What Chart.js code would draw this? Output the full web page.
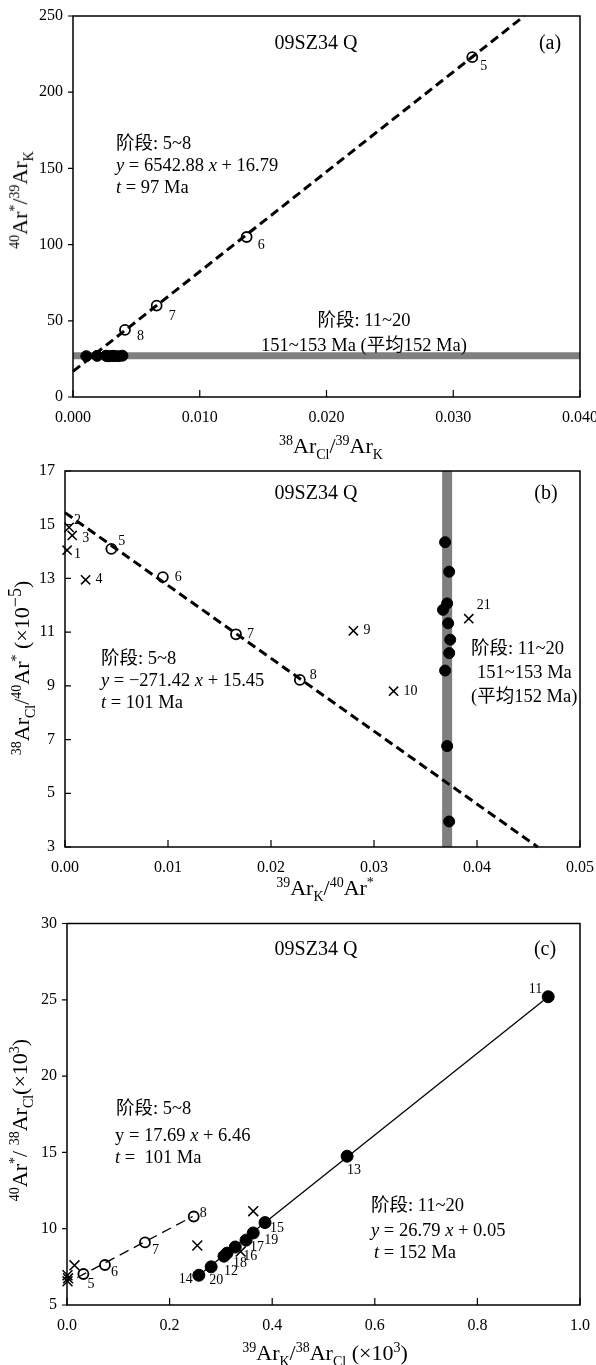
<!DOCTYPE html>
<html>
<head>
<meta charset="utf-8">
<title>09SZ34 Q</title>
<script src="https://cdn.jsdelivr.net/npm/chart.js@4.4.1/dist/chart.umd.min.js"></script>
<style>
body{margin:0;background:#fff;}
#page{position:relative;width:596px;height:1365px;overflow:hidden;background:#fff;font-family:'Liberation Serif','Noto Sans CJK SC',serif;color:#000;}
canvas{position:absolute;left:0;}
.t{position:absolute;white-space:nowrap;line-height:1;transform:translateY(-50%);}
.c{transform:translate(-50%,-50%);}
.ttl{font-size:20px;}
.ann{font-size:18.5px;}
.ax{position:absolute;white-space:nowrap;font-size:22px;line-height:1;transform:translate(-50%,-50%);}
.ax.rot{transform:translate(-50%,-50%) rotate(-90deg);}
.ax sup,.ax sub{font-size:14px;}
.ax sup.big{font-size:18px;}
</style>
</head>
<body>
<div id="page">
<canvas id="chA" width="596" height="462" style="top:0"></canvas>
<canvas id="chB" width="596" height="453" style="top:462px"></canvas>
<canvas id="chC" width="596" height="450" style="top:915px"></canvas>

<!-- panel (a) texts -->
<div class="t c ttl" style="left:316px;top:42px">09SZ34 Q</div>
<div class="t c ttl" style="left:550px;top:42px">(a)</div>
<div class="t ann" style="left:116px;top:143px">阶段: 5~8</div>
<div class="t ann" style="left:116px;top:165px"><i>y</i> = 6542.88 <i>x</i> + 16.79</div>
<div class="t ann" style="left:116px;top:187px"><i>t</i> = 97 Ma</div>
<div class="t c ann" style="left:364px;top:320px">阶段: 11~20</div>
<div class="t c ann" style="left:364px;top:345px">151~153 Ma (平均152 Ma)</div>
<div class="ax" style="left:331px;top:448px"><sup>38</sup>Ar<sub>Cl</sub>/<sup>39</sup>Ar<sub>K</sub></div>
<div class="ax rot" style="left:22px;top:200px"><sup>40</sup>Ar<sup>*</sup>/<sup>39</sup>Ar<sub>K</sub></div>

<!-- panel (b) texts -->
<div class="t c ttl" style="left:316px;top:492px">09SZ34 Q</div>
<div class="t c ttl" style="left:546px;top:492px">(b)</div>
<div class="t ann" style="left:101px;top:658px">阶段: 5~8</div>
<div class="t ann" style="left:101px;top:680px"><i>y</i> = −271.42 <i>x</i> + 15.45</div>
<div class="t ann" style="left:101px;top:702px"><i>t</i> = 101 Ma</div>
<div class="t ann" style="left:471px;top:648px">阶段: 11~20</div>
<div class="t ann" style="left:477px;top:672px">151~153 Ma</div>
<div class="t ann" style="left:471px;top:696px">(平均152 Ma)</div>
<div class="ax" style="left:325px;top:890px"><sup>39</sup>Ar<sub>K</sub>/<sup>40</sup>Ar<sup>*</sup></div>
<div class="ax rot" style="left:22px;top:668px"><sup>38</sup>Ar<sub>Cl</sub>/<sup>40</sup>Ar<sup>*</sup> (×10<sup class="big">−5</sup>)</div>

<!-- panel (c) texts -->
<div class="t c ttl" style="left:316px;top:948px">09SZ34 Q</div>
<div class="t c ttl" style="left:545px;top:948px">(c)</div>
<div class="t ann" style="left:116px;top:1108px">阶段: 5~8</div>
<div class="t ann" style="left:115px;top:1135px">y = 17.69 <i>x</i> + 6.46</div>
<div class="t ann" style="left:115px;top:1157px"><i>t</i> =&nbsp; 101 Ma</div>
<div class="t ann" style="left:371px;top:1205px">阶段: 11~20</div>
<div class="t ann" style="left:371px;top:1230px"><i>y</i> = 26.79 <i>x</i> + 0.05</div>
<div class="t ann" style="left:374px;top:1252px"><i>t</i> = 152 Ma</div>
<div class="ax" style="left:325px;top:1355px"><sup>39</sup>Ar<sub>K</sub>/<sup>38</sup>Ar<sub>Cl</sub> (×10<sup>3</sup>)</div>
<div class="ax rot" style="left:22px;top:1120px"><sup>40</sup>Ar<sup>*</sup>/ <sup>38</sup>Ar<sub>Cl</sub>(×10<sup>3</sup>)</div>
</div>

<script>
/* ============================================================
   DATA
   ============================================================ */
// (a) 38ArCl/39ArK vs 40Ar*/39ArK
var xTicksA=[0,0.01,0.02,0.03,0.04];
var xLabelsA=['0.000','0.010','0.020','0.030','0.040'];
var yTicksA=[0,50,100,150,200,250];
var yLabelsA=['0','50','100','150','200','250'];
var openA_x=[0.0315,0.0137,0.0066,0.0041];
var openA_y=[223,105,60,44];
var openA_lab=['5','6','7','8'];
var fillA_x=[0.00105,0.0019,0.0026,0.0027,0.0029,0.0031,0.0032,0.0033,0.0036,0.0039];
var fillA_y=[26.8,27.0,27.1,26.8,26.8,27.0,26.9,26.9,26.8,27.1];
var lineA_x=[0,0.0356];
var lineA_y=[16.8,250];
var bandA_x=[0,0.04];
var bandA_y=[27,27];

// (b) 39ArK/40Ar* vs 38ArCl/40Ar* (x10-5)
var xTicksB=[0,0.01,0.02,0.03,0.04,0.05];
var xLabelsB=['0.00','0.01','0.02','0.03','0.04','0.05'];
var yTicksB=[3,5,7,9,11,13,15,17];
var yLabelsB=['3','5','7','9','11','13','15','17'];
var crossB_x=[0.0002,0.0004,0.0007,0.0020,0.0280,0.0319,0.0392];
var crossB_y=[14.05,14.9,14.6,12.95,11.05,8.8,11.5];
var crossB_lab=['1','2','3','4','9','10','21'];
var openB_x=[0.0045,0.0095,0.0166,0.0228];
var openB_y=[14.1,13.05,10.92,9.22];
var openB_lab=['5','6','7','8'];
var fillB_x=[0.0369,0.0373,0.0371,0.0367,0.0372,0.0374,0.0373,0.0369,0.0371,0.0373];
var fillB_y=[14.35,13.25,12.07,11.83,11.33,10.72,10.22,9.57,6.76,3.95];
var lineB_x=[0,0.0459];
var lineB_y=[15.45,3];
var bandB_x=[0.0371,0.0371];
var bandB_y=[3,17];

// (c) 39ArK/38ArCl (x10^3) vs 40Ar*/38ArCl (x10^3)
var xTicksC=[0,0.2,0.4,0.6,0.8,1.0];
var xLabelsC=['0.0','0.2','0.4','0.6','0.8','1.0'];
var yTicksC=[5,10,15,20,25,30];
var yLabelsC=['5','10','15','20','25','30'];
var crossC_x=[0.001,0.002,0.001,0.0146,0.254,0.3385,0.363];
var crossC_y=[6.95,6.75,6.55,7.6,8.9,8.5,11.15];
var openC_x=[0.032,0.074,0.152,0.247];
var openC_y=[7.03,7.62,9.1,10.8];
var openC_lab=['5','6','7','8'];
var fillC_x=[0.257,0.281,0.306,0.312,0.328,0.349,0.363,0.386,0.546,0.938];
var fillC_y=[6.95,7.5,8.2,8.4,8.8,9.25,9.72,10.4,14.75,25.2];
var fillC_lab=['14','20','12','18','16','17','19','15','13','11'];
var lineC1_x=[0.02,0.245];
var lineC1_y=[6.8,10.8];
var lineC2_x=[0.257,0.938];
var lineC2_y=[6.95,25.2];

/* ============================================================
   LABEL OFFSETS (px, [dx,dy,align])
   ============================================================ */
var offA_open=[[8,9],[11,8],[12,11],[12,6]];
var offB_cross=[[7,4],[5,-7],[10,3],[10,0],[10,0],[10,0],[8,-13]];
var offB_open=[[7,-8],[12,0],[11,0],[10,-5]];
var offC_open=[[4,10],[6,7],[7,8],[6,-3]];
var offC_fill=[[-6,4,'r'],[-2,13],[0,15],[6,10],[8,9],[4,7],[11,7],[5,6],[0,14],[-6,-7,'r']];

/* ============================================================
   HELPERS
   ============================================================ */
var FONT='"Liberation Serif","Noto Sans CJK SC",serif';
function pts(xs,ys){return xs.map(function(x,i){return {x:x,y:ys[i]};});}

function openSet(xs,ys,lab,off,r){return {data:pts(xs,ys),pointStyle:'circle',pointRadius:r||5,pointBorderWidth:1.8,pointBorderColor:'#000',pointBackgroundColor:'rgba(0,0,0,0)',showLine:false,clip:false,ptLabels:lab,ptOffs:off};}
function fillSet(xs,ys,lab,off,r){return {data:pts(xs,ys),pointStyle:'circle',pointRadius:r||5.5,pointBorderWidth:1,pointBorderColor:'#000',pointBackgroundColor:'#000',showLine:false,clip:false,ptLabels:lab,ptOffs:off};}
function crossSet(xs,ys,lab,off,r){return {data:pts(xs,ys),pointStyle:'crossRot',pointRadius:r||6.5,pointBorderWidth:1.5,pointBorderColor:'#000',pointBackgroundColor:'#000',showLine:false,clip:false,ptLabels:lab,ptOffs:off};}
function lineSet(xs,ys,w,dash){return {data:pts(xs,ys),showLine:true,pointRadius:0,borderColor:'#000',borderWidth:w,borderDash:dash||[],borderCapStyle:'butt',fill:false,clip:false};}
function bandSet(xs,ys,w){return {data:pts(xs,ys),showLine:true,pointRadius:0,borderColor:'#7f7f7f',borderWidth:w,borderCapStyle:'butt',fill:false};}

var framePlugin={
    id:'frame',
    afterDatasetsDraw:function(chart,args,opts){
        var a=chart.chartArea,ctx=chart.ctx,xs=chart.scales.x,ys=chart.scales.y;
        ctx.save();ctx.strokeStyle='#000';ctx.lineWidth=1.5;
        ctx.strokeRect(a.left,a.top,a.right-a.left,a.bottom-a.top);
        ctx.lineWidth=1.2;ctx.beginPath();
        xs.ticks.forEach(function(t){var p=xs.getPixelForValue(t.value);ctx.moveTo(p,a.bottom);ctx.lineTo(p,a.bottom-7);});
        ys.ticks.forEach(function(t){var p=ys.getPixelForValue(t.value);ctx.moveTo(a.left,p);ctx.lineTo(opts.yIn?a.left+6:a.left-5,p);});
        ctx.stroke();ctx.restore();
    }
};
var labelPlugin={
    id:'ptlabels',
    afterDatasetsDraw:function(chart){
        var ctx=chart.ctx;
        chart.data.datasets.forEach(function(ds,i){
            if(!ds.ptLabels)return;
            var meta=chart.getDatasetMeta(i);
            ctx.save();ctx.font='14px '+FONT;ctx.fillStyle='#000';ctx.textBaseline='middle';
            meta.data.forEach(function(el,j){
                var o=ds.ptOffs[j];
                ctx.textAlign=o[2]==='r'?'right':'left';
                ctx.fillText(ds.ptLabels[j],el.x+o[0],el.y+o[1]);
            });
            ctx.restore();
        });
    }
};

function axis(tv,tl,isX,fitSize){
    return {
        type:'linear',min:tv[0],max:tv[tv.length-1],
        grid:{display:false,drawTicks:false},border:{display:false},
        afterBuildTicks:function(s){s.ticks=tv.map(function(v){return {value:v};});},
        afterFit:function(s){if(isX){s.height=fitSize;s.paddingLeft=0;s.paddingRight=0;}else{s.width=fitSize;s.paddingTop=0;s.paddingBottom=0;}},
        ticks:{callback:function(v,i){return tl[i];},font:{family:FONT,size:16},color:'#000',padding:isX?11:10,maxRotation:0,autoSkip:false}
    };
}

function makeChart(id,datasets,xa,ya,padTop,yIn){
    return new Chart(document.getElementById(id),{
        type:'scatter',
        data:{datasets:datasets},
        options:{
            responsive:false,maintainAspectRatio:false,animation:false,events:[],
            layout:{padding:{top:padTop,right:16,left:0,bottom:0}},
            scales:{x:xa,y:ya},
            plugins:{legend:{display:false},tooltip:{enabled:false},frame:{yIn:yIn}}
        },
        plugins:[framePlugin,labelPlugin]
    });
}

/* ============================================================
   CHARTS
   ============================================================ */
makeChart('chA',[
    openSet(openA_x,openA_y,openA_lab,offA_open),
    fillSet(fillA_x,fillA_y,null,null,5.5),
    lineSet(lineA_x,lineA_y,3,[9,5]),
    bandSet(bandA_x,bandA_y,7)
],axis(xTicksA,xLabelsA,true,65),axis(yTicksA,yLabelsA,false,73),16,false);

makeChart('chB',[
    crossSet(crossB_x,crossB_y,crossB_lab,offB_cross,6.5),
    openSet(openB_x,openB_y,openB_lab,offB_open),
    fillSet(fillB_x,fillB_y,null,null,5.5),
    lineSet(lineB_x,lineB_y,3,[9,5]),
    bandSet(bandB_x,bandB_y,10)
],axis(xTicksB,xLabelsB,true,68),axis(yTicksB,yLabelsB,false,65),9,true);

makeChart('chC',[
    crossSet(crossC_x,crossC_y,null,null,7),
    openSet(openC_x,openC_y,openC_lab,offC_open,5),
    fillSet(fillC_x,fillC_y,fillC_lab,offC_fill,6),
    lineSet(lineC1_x,lineC1_y,1.3,[10,6]),
    lineSet(lineC2_x,lineC2_y,1.3)
],axis(xTicksC,xLabelsC,true,60),axis(yTicksC,yLabelsC,false,67),8,false);
</script>
</body>
</html>
